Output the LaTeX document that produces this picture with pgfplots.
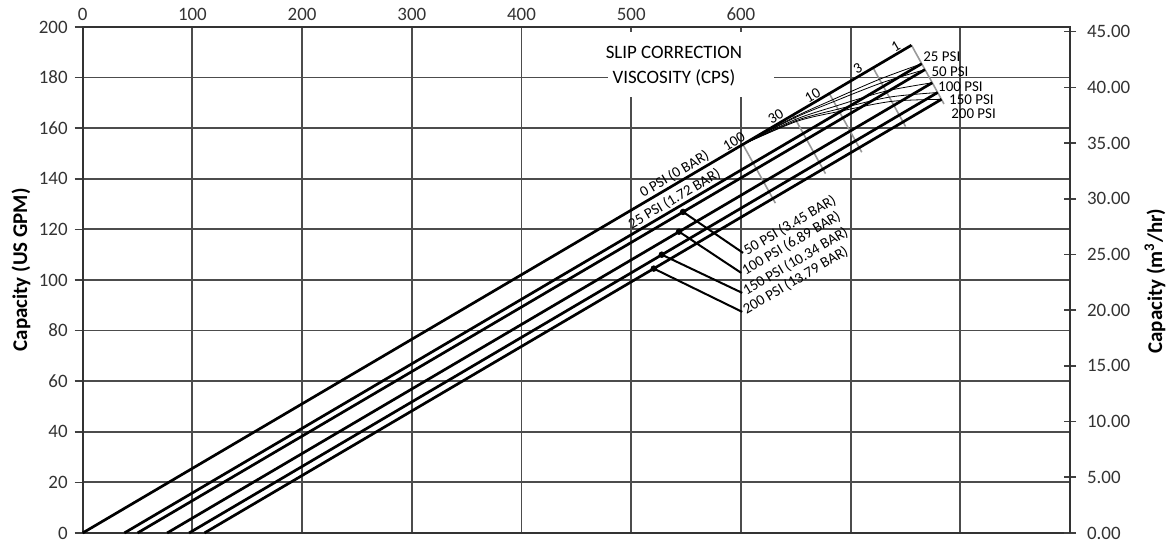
\documentclass[border=0pt]{standalone}
\usepackage{fontspec}
\setmainfont{Carlito}
\usepackage{pgfplots}
\pgfplotsset{compat=1.18}
\usetikzlibrary{calc}

\begin{document}
\begin{tikzpicture}
\begin{axis}[
  name=main,
  scale only axis,
  width=493.7bp, height=253bp,
  xmin=0, xmax=900, ymin=0, ymax=200,
  xtick={0,100,...,800},
  xticklabels={0,100,200,300,400,500,600,{},{}},
  xticklabel pos=top,
  x tick style={draw=none},
  xticklabel style={yshift=-4.5bp},
  ytick={0,20,...,200},
  ytick pos=left,
  y tick style={black!75, line width=0.8bp},
  tick align=outside,
  major tick length=4bp,
  grid=major,
  major grid style={black!70, line width=0.9bp},
  axis line style={black!80, line width=1bp},
  ticklabel style={font=\fontsize{9.5}{10}\selectfont, text=black!80},
  /pgf/number format/assume math mode=true,
  ylabel={Capacity (US GPM)},
  ylabel style={font=\bfseries\fontsize{10.5}{12}\selectfont,
                at={(axis description cs:-0.0625,0.52)}, anchor=center},
  clip=false,
]
% viscosity lines (gray)
\addplot[black!40, line width=0.8bp] coordinates {(755.5,192.8) (785.1,169.6)};
\addplot[black!40, line width=0.8bp] coordinates {(720.5,183.87) (750.1,160.67)};
\addplot[black!40, line width=0.8bp] coordinates {(680.6,173.69) (710.2,150.49)};
\addplot[black!40, line width=0.8bp] coordinates {(647.5,165.24) (677.1,142.04)};
\addplot[black!40, line width=0.8bp] coordinates {(601.8,153.58) (631.4,130.38)};

% slip correction curves
\addplot[black, line width=0.4bp, smooth] coordinates {(764.84,185.47) (726.29,179.33) (683.68,171.27) (648.62,164.36) (601.8,153.58)};
\addplot[black, line width=0.4bp, smooth] coordinates {(767.79,183.16) (728.12,177.89) (684.65,170.51) (648.97,164.08) (601.8,153.58)};
\addplot[black, line width=0.4bp, smooth] coordinates {(774.42,177.95) (732.23,174.66) (686.84,168.79) (649.77,163.46) (601.8,153.58)};
\addplot[black, line width=0.4bp, smooth] coordinates {(779.34,174.09) (735.28,172.27) (688.47,167.52) (650.36,163.00) (601.8,153.58)};
\addplot[black, line width=0.4bp, smooth] coordinates {(782.78,171.40) (737.41,170.60) (689.60,166.63) (650.77,162.67) (601.8,153.58)};

% pressure lines
\addplot[black, line width=1.35bp] coordinates {(0,0) (755.5,192.8)};
\addplot[black, line width=1.35bp] coordinates {(38,0) (764.8,185.47)};
\addplot[black, line width=1.35bp] coordinates {(50,0) (767.8,183.16)};
\addplot[black, line width=1.35bp] coordinates {(77,0) (774.4,177.95)};
\addplot[black, line width=1.35bp] coordinates {(97,0) (779.3,174.09)};
\addplot[black, line width=1.35bp] coordinates {(111,0) (782.8,171.40)};

% leaders
\addplot[black, line width=1bp] coordinates {(547.3,126.9) (602,110.7)};
\addplot[black, line width=1bp] coordinates {(543.6,119.1) (600.3,102.8)};
\addplot[black, line width=1bp] coordinates {(527.9,110.0) (601.2,94.9)};
\addplot[black, line width=1bp] coordinates {(520.6,104.5) (601.2,87.4)};
\addplot[only marks, mark=*, mark size=1.4bp, black] coordinates {(547.3,126.9) (543.6,119.1) (527.9,110.0) (520.6,104.5)};

% title box
\node[fill=white, minimum width=83bp, minimum height=32.5bp, inner sep=0pt] at (axis cs:554.7,185.2) {};
\node[font=\fontsize{9.5}{10}\selectfont] at (axis cs:539,190.1) {SLIP CORRECTION};
\node[font=\fontsize{9.5}{10}\selectfont] at (axis cs:539,179.8) {VISCOSITY (CPS)};

% line labels
\begin{scope}[every node/.style={font=\fontsize{7.5}{8}\selectfont, rotate=30.5, inner sep=1bp}]
\node[anchor=south] at (axis cs:543.6,138.7) {0 PSI (0 BAR)};
\node[anchor=south] at (axis cs:543.6,129.0) {25 PSI (1.72 BAR)};
\node[anchor=west] at (axis cs:602,110.7) {50 PSI (3.45 BAR)};
\node[anchor=west] at (axis cs:600.3,102.8) {100 PSI (6.89 BAR)};
\node[anchor=west] at (axis cs:601.2,94.9) {150 PSI (10.34 BAR)};
\node[anchor=west] at (axis cs:601.2,87.4) {200 PSI (13.79 BAR)};
\node[anchor=south] at (axis cs:744.5,190.0) {1};
\node[anchor=south] at (axis cs:709.8,181.1) {3};
\node[anchor=south] at (axis cs:668.7,170.6) {10};
\node[anchor=south] at (axis cs:635,162.1) {30};
\node[anchor=south] at (axis cs:597,152.4) {100};
\end{scope}
\begin{scope}[every node/.style={font=\fontsize{7.5}{8}\selectfont, anchor=west, inner sep=0pt}]
\node at (axis cs:766,188.1) {25 PSI};
\node at (axis cs:773.5,182.2) {50 PSI};
\node at (axis cs:779.5,176.3) {100 PSI};
\node at (axis cs:789.5,171.1) {150 PSI};
\node at (axis cs:791.5,165.6) {200 PSI};
\end{scope}
\end{axis}

\begin{axis}[
  scale only axis,
  width=493.7bp, height=253bp,
  xmin=0, xmax=900, ymin=0, ymax=45.42,
  axis x line=none,
  axis y line*=right,
  ytick={0,5,...,45},
  tick align=center,
  major tick length=6bp,
  y tick style={black!75, line width=0.8bp},
  axis line style={black!80, line width=1bp},
  ticklabel style={font=\fontsize{9.5}{10}\selectfont, text=black!80, xshift=2bp},
  yticklabel style={/pgf/number format/.cd, fixed, fixed zerofill, precision=2, assume math mode=true},
  ylabel={Capacity (m\textsuperscript{3}/hr)},
  ylabel style={font=\bfseries\fontsize{10.5}{12}\selectfont,
                at={(axis description cs:1.086,0.498)}, anchor=center},
]
\end{axis}

\pgfresetboundingbox
\path ($(main.south west)+(-41.35bp,-6.5bp)$) rectangle ($(main.north east)+(50bp,13.5bp)$);
\end{tikzpicture}
\end{document}
